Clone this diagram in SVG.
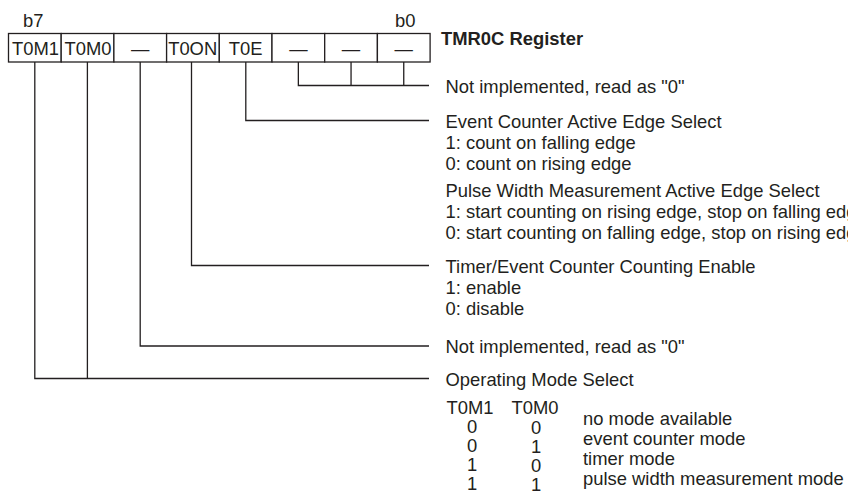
<svg xmlns="http://www.w3.org/2000/svg" width="848" height="493" viewBox="0 0 848 493">
<style>
text{font-family:"Liberation Sans",Arial,sans-serif;font-size:18.4px;fill:#231f20}
.b{font-weight:bold}
.m{text-anchor:middle}
.cell{fill:#fff;stroke:#231f20;stroke-width:1.3}
.ln{fill:none;stroke:#231f20;stroke-width:1.3}
</style>
<rect width="848" height="493" fill="#fff"/>
<g id="register">
<text x="23" y="26.5">b7</text>
<text x="395" y="26.5">b0</text>
<rect class="cell" x="8.5" y="33.5" width="52.7" height="28.5"/>
<rect class="cell" x="61.2" y="33.5" width="52.7" height="28.5"/>
<rect class="cell" x="113.9" y="33.5" width="52.7" height="28.5"/>
<rect class="cell" x="166.6" y="33.5" width="52.7" height="28.5"/>
<rect class="cell" x="219.3" y="33.5" width="52.7" height="28.5"/>
<rect class="cell" x="272" y="33.5" width="52.7" height="28.5"/>
<rect class="cell" x="324.7" y="33.5" width="52.7" height="28.5"/>
<rect class="cell" x="377.4" y="33.5" width="52.7" height="28.5"/>
<text class="m" x="35.5" y="54.5">T0M1</text>
<text class="m" x="88" y="54.5">T0M0</text>
<text class="m" x="140.25" y="54.5">—</text>
<text class="m" x="192.7" y="54.5">T0ON</text>
<text class="m" x="245.6" y="54.5">T0E</text>
<text class="m" x="298.35" y="54.5">—</text>
<text class="m" x="351.05" y="54.5">—</text>
<text class="m" x="403.75" y="54.5">—</text>
<text class="b" x="441" y="45">TMR0C Register</text>
</g>
<g id="connectors">
<path class="ln" d="M298.35 62V85.5H429M351.05 62V85.5M403.75 62V85.5"/>
<path class="ln" d="M245.8 62V120.5H429"/>
<path class="ln" d="M191.5 62V265.5H429"/>
<path class="ln" d="M140.2 62V346H429"/>
<path class="ln" d="M34.8 62V378.5H429M87.4 62V378.5"/>
</g>
<g id="desc-bits-2-0"><text x="445.5" y="93">Not implemented, read as "0"</text></g>
<g id="desc-t0e">
<text x="445.5" y="127.5">Event Counter Active Edge Select</text>
<text x="445.5" y="148.5">1: count on falling edge</text>
<text x="445.5" y="169.5">0: count on rising edge</text>
<text x="445.5" y="196.5">Pulse Width Measurement Active Edge Select</text>
<text x="445.5" y="217.5">1: start counting on rising edge, stop on falling edge</text>
<text x="445.5" y="238.5">0: start counting on falling edge, stop on rising edge</text>
</g>
<g id="desc-t0on">
<text x="445.5" y="273">Timer/Event Counter Counting Enable</text>
<text x="445.5" y="294">1: enable</text>
<text x="445.5" y="315">0: disable</text>
</g>
<g id="desc-bit-5"><text x="445.5" y="353">Not implemented, read as "0"</text></g>
<g id="desc-t0m">
<text x="445.5" y="385.5">Operating Mode Select</text>
<text class="m" x="470" y="413.5">T0M1</text>
<text class="m" x="535" y="413.5">T0M0</text>
<text class="m" x="472" y="433">0</text><text class="m" x="536" y="434">0</text>
<text class="m" x="472" y="452">0</text><text class="m" x="536" y="453">1</text>
<text class="m" x="472" y="471">1</text><text class="m" x="536" y="472">0</text>
<text class="m" x="472" y="490">1</text><text class="m" x="536" y="491">1</text>
<text x="583" y="425">no mode available</text>
<text x="583" y="445">event counter mode</text>
<text x="583" y="465">timer mode</text>
<text x="583" y="485">pulse width measurement mode</text>
</g>
</svg>
